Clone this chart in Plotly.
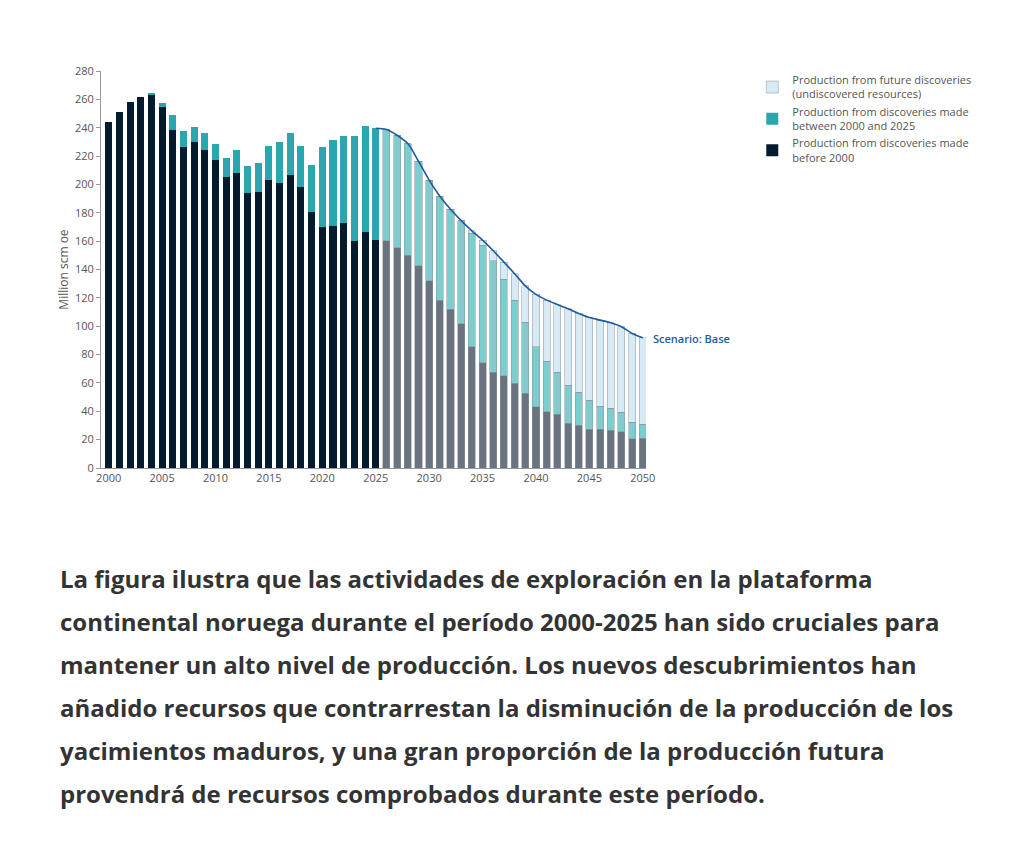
import plotly.graph_objects as go

# Years and production (million scm oe)
hist_years = list(range(2000, 2026))
hist_pre2000 = [244, 251, 258, 261.5, 263.3, 254.6, 238.2, 226.7, 229.7, 224.1,
                217, 205.5, 208.4, 194, 194.5, 203.4, 201.1, 206.5, 198.3, 180.9,
                170.1, 170.8, 173.1, 160, 166.3, 161.1]
hist_2000_2025 = [0, 0, 0, 0, 1.0, 3.1, 11.0, 10.8, 10.6, 12.0,
                  11.8, 13.0, 15.7, 19.0, 20.4, 23.5, 29.1, 30.0, 28.6, 32.9,
                  56.6, 60.3, 60.9, 74.0, 74.7, 78.5]

fc_years = list(range(2026, 2051))
fc_pre2000 = [160.4, 155.3, 149.9, 142.6, 132, 118.4, 112, 101.7, 85.5, 74.2,
              67.4, 65.1, 59.9, 52.9, 43.2, 39.7, 38, 31.7, 30.3, 27.5,
              27.5, 26.8, 25.4, 20.7, 21.1]
fc_2000_2025 = [78.0, 79.4, 78.9, 73.8, 71.0, 73.3, 70.5, 72.8, 79.9, 83.0,
                78.7, 68.1, 58.3, 50.0, 42.3, 35.5, 29.7, 26.6, 23.0, 20.2,
                16.2, 15.2, 13.8, 11.5, 9.7]
fc_future = [0.4, 0, 0, 0, 0, 0, 0, 0, 1.9, 3.5,
             7.1, 12.0, 18.8, 25.6, 36.9, 43.2, 47.6, 54.0, 55.7, 58.5,
             60.6, 60.4, 60.4, 62.7, 61.0]

# Scenario line: total production 2025-2050
line_years = [2025] + fc_years
line_total = [239.6] + [a + b + c for a, b, c in zip(fc_pre2000, fc_2000_2025, fc_future)]

y_ticks = list(range(0, 281, 20))
x_ticks = list(range(2000, 2051, 5))

paragraph = [
    "La figura ilustra que las actividades de exploración en la plataforma",
    "continental noruega durante el período 2000-2025 han sido cruciales para",
    "mantener un alto nivel de producción. Los nuevos descubrimientos han",
    "añadido recursos que contrarrestan la disminución de la producción de los",
    "yacimientos maduros, y una gran proporción de la producción futura",
    "provendrá de recursos comprobados durante este período.",
]

NAVY = "#041a2f"
TEAL = "#2ca6ae"
GREY = "#6a7480"
LTEAL = "#7ecccd"
FUTURE = "#d7eaf6"
LINE = "#1d5b9a"

fig = go.Figure()

fig.add_trace(go.Bar(x=hist_years, y=hist_pre2000, marker=dict(color=NAVY, line=dict(width=0)),
                     name="Production from discoveries made<br>before 2000", legendrank=3))
fig.add_trace(go.Bar(x=hist_years, y=hist_2000_2025, marker=dict(color=TEAL, line=dict(width=0)),
                     name="Production from discoveries made<br>between 2000 and 2025", legendrank=2))
fig.add_trace(go.Bar(x=fc_years, y=fc_pre2000, marker=dict(color=GREY, line=dict(color="#8a939c", width=0.5)),
                     showlegend=False))
fig.add_trace(go.Bar(x=fc_years, y=fc_2000_2025, marker=dict(color=LTEAL, line=dict(color="#8a939c", width=0.5)),
                     showlegend=False))
fig.add_trace(go.Bar(x=fc_years, y=fc_future, marker=dict(color=FUTURE, line=dict(color="#8a939c", width=0.5)),
                     name="Production from future discoveries<br>(undiscovered resources)", legendrank=1))

fig.add_trace(go.Scatter(x=line_years, y=line_total, mode="lines",
                         line=dict(color=LINE, width=1.6, shape="spline", smoothing=0.8),
                         showlegend=False, hoverinfo="skip"))

fig.add_annotation(x=line_years[-1], y=line_total[-1], xref="x", yref="y",
                   text="Scenario: Base", showarrow=False, xanchor="left", yanchor="middle",
                   xshift=8, yshift=-1, font=dict(family="Open Sans", size=11, color=LINE, weight=600))

# paragraph under the chart (plot area spans px 63..460 vertically, 93..638 horizontally)
for i, line in enumerate(paragraph):
    py = 570 + 43 * i
    fig.add_annotation(x=(50 - 93) / 545, y=(460 - py) / 397, xref="paper", yref="paper",
                       text=line, showarrow=False, xanchor="left", yanchor="middle",
                       font=dict(family="Open Sans", size=24, color="#333333", weight=700))

fig.update_layout(
    width=1010, height=843,
    margin=dict(l=93, r=372, t=63, b=383),
    barmode="stack", bargap=0.34,
    plot_bgcolor="white", paper_bgcolor="white",
    font=dict(family="Open Sans", size=11, color="#555555"),
    showlegend=True,
    legend=dict(x=1.195, y=1.012, xanchor="left", yanchor="top",
                font=dict(size=11, color="#555555"), traceorder="normal",
                itemwidth=30, tracegroupgap=4),
)
fig.update_xaxes(range=[1999.28, 2050.3], tickvals=x_ticks, showgrid=False,
                 showline=True, linecolor="#9a9a9a", linewidth=1, ticks="", zeroline=False,
                 tickfont=dict(size=11, color="#555555"))
fig.update_yaxes(range=[0, 280], tickvals=y_ticks, showgrid=False, showline=True,
                 linecolor="#9a9a9a", linewidth=1, ticks="outside", ticklen=4, tickcolor="#9a9a9a",
                 zeroline=False, title=dict(text="Million scm oe", standoff=3,
                                            font=dict(size=12, color="#555555")),
                 tickfont=dict(size=11, color="#555555"))

fig.write_html("out.html")
